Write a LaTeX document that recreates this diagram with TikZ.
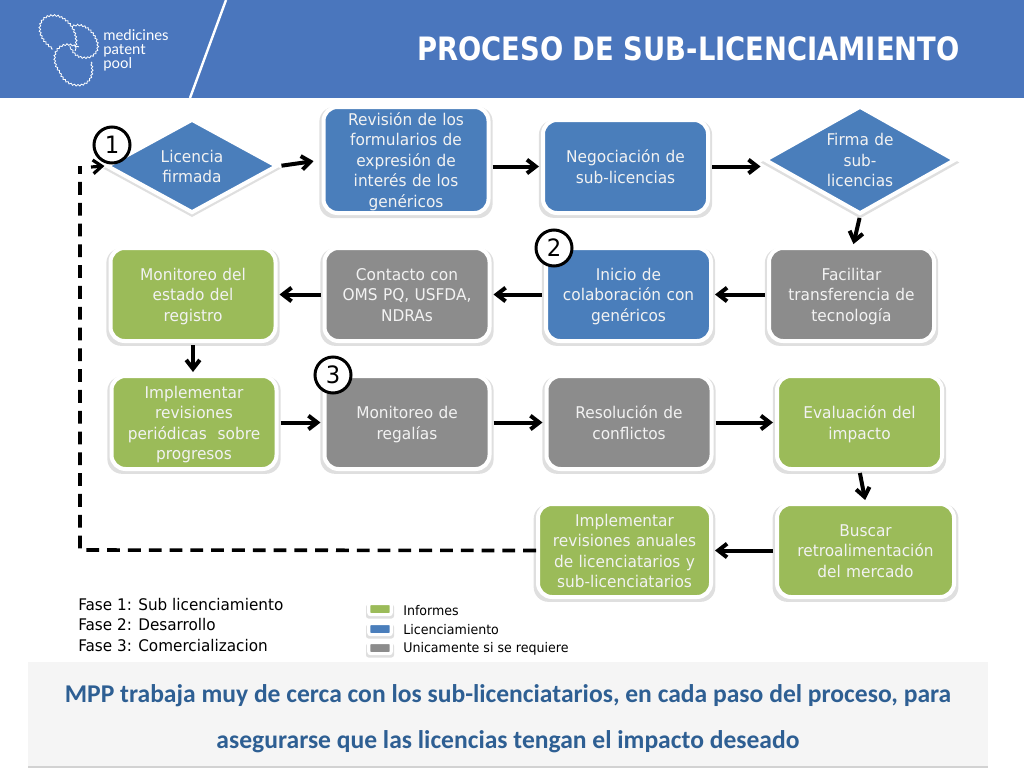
\documentclass[tikz,border=0pt]{standalone}
\usepackage{fontspec}
\setmainfont[FakeStretch=0.95]{DejaVu Sans}
\newfontfamily\titlefont[FakeStretch=0.85]{DejaVu Sans}
\newfontfamily\notefont{Carlito}
\newfontfamily\logofont{Lato}
\usetikzlibrary{arrows.meta,shapes.geometric,shadows,decorations.pathmorphing}
\definecolor{mppblue}{HTML}{4A7EBB}
\definecolor{headblue}{HTML}{4A76BD}
\definecolor{mppgreen}{HTML}{9BBB59}
\definecolor{mppgrey}{HTML}{8C8C8C}
\definecolor{notetext}{HTML}{2E5F93}
\begin{document}
\begin{tikzpicture}[x=0.25mm, y=-0.25mm, >={Straight Barb[length=2.2mm,width=3.4mm]},
    soft/.style={drop shadow={shadow xshift=0mm, shadow yshift=-0.6mm, shadow scale=1.05, opacity=0.25}},
    flowbox/.style={rectangle, rounded corners=3.5mm, draw=white, line width=1mm, soft, text=white!95!black,
      minimum width=41.25mm, minimum height=23.25mm, inner sep=0mm, text width=38mm, align=center,
      font=\fontsize{11.5}{14.6}\selectfont,
      execute at begin node={\rule{0pt}{4.3mm}}, execute at end node={\rule[-1.1mm]{0pt}{1.1mm}}},
    bluebox/.style={flowbox, fill=mppblue},
    greenbox/.style={flowbox, fill=mppgreen},
    greybox/.style={flowbox, fill=mppgrey},
    flowdiamond/.style={bluebox, diamond, rounded corners=0mm, inner sep=0mm, aspect=1.77, text width=20mm},
    stepnum/.style={circle, draw=black, fill=white, line width=0.75mm, minimum size=9mm, inner sep=0mm,
      font=\fontsize{17}{17}\selectfont},
    swatch/.style={rectangle, rounded corners=0.5mm, draw=white, line width=0.8mm,
      drop shadow={shadow xshift=0mm, shadow yshift=-0.5mm, shadow scale=1.25, opacity=0.25},
      minimum width=5.6mm, minimum height=2.8mm, inner sep=0mm},
    flow/.style={->, line width=1mm, shorten <=0.5mm, shorten >=0.5mm},
    back/.style={line width=0.9mm, dash pattern=on 3.2mm off 2mm},
    legendtext/.style={anchor=west, inner sep=0mm, font=\fontsize{9.45}{11}\selectfont},
    phasetext/.style={anchor=west, inner sep=0mm, font=\fontsize{11.4}{13}\selectfont}]
      \useasboundingbox (0,0) rectangle (1024,768);

      % Header
      \fill[headblue] (0,0) rectangle (1024,98);
      \draw[white, line width=0.6mm] (226,0) -- (190,98);
      \node[text=white, anchor=east, inner sep=0mm, font=\titlefont\fontsize{22.9}{26}\bfseries\selectfont] (title) at (960,49) {PROCESO DE SUB-LICENCIAMIENTO};

      % Logo
      \begin{scope}[white, line width=0.2mm, decoration={snake, amplitude=0.2mm, segment length=0.9mm}]
        \draw[decorate] (53,49) .. controls (34,36) and (38,14) .. (56,16) .. controls (68,17) and (82,34) .. (75,51);
        \draw[decorate] (73,26) .. controls (85,22) and (97,36) .. (97,47) .. controls (96,62) and (72,62) .. (70,46);
        \draw[decorate] (91,62) .. controls (98,90) and (66,90) .. (60,72) .. controls (48,58) and (56,36) .. (79,47);
      \end{scope}
      \node[text=white, anchor=west, inner sep=0mm, align=left, font=\logofont\fontsize{10.6}{10}\selectfont] (logotext) at (103,50) {medicines\\patent\\pool};

      % First row of nodes
      \node[flowdiamond, minimum width=42.75mm, minimum height=23.5mm] (licencia) at (192,166) {Licencia\\firmada};
      \node[bluebox, minimum height=26.5mm] (revision) at (406,160) {Revisión de los\\formularios de\\expresión de\\interés de los\\genéricos};
      \node[bluebox] (negociacion) at (625.5,166.5) {Negociación de\\sub-licencias};
      \node[flowdiamond, minimum width=47.5mm, minimum height=27mm] (firma) at (860,160) {Firma de\\sub-\\licencias};

      % Second row of nodes
      \node[greenbox] (estado) at (193,294.5) {Monitoreo del\\estado del\\registro};
      \node[greybox] (contacto) at (407,294.5) {Contacto con\\OMS PQ, USFDA,\\NDRAs};
      \node[bluebox] (inicio) at (628.5,294.5) {Inicio de\\colaboración con\\genéricos};
      \node[greybox] (facilitar) at (851.5,294.5) {Facilitar\\transferencia de\\tecnología};

      % Third row of nodes
      \node[greenbox] (periodicas) at (194,422.5) {Implementar\\revisiones\\periódicas\ \ sobre\\progresos};
      \node[greybox] (regalias) at (407,422.5) {Monitoreo de\\regalías};
      \node[greybox] (conflictos) at (629,422.5) {Resolución de\\conflictos};
      \node[greenbox] (impacto) at (859.5,422.5) {Evaluación del\\impacto};

      % Fourth row of nodes
      \node[greenbox, minimum width=43.25mm] (anuales) at (624.5,550.5) {Implementar\\revisiones anuales\\de licenciatarios y\\sub-licenciatarios};
      \node[greenbox, minimum width=44.25mm] (buscar) at (865.5,550.5) {Buscar\\retroalimentación\\del mercado};

      % Step numbers
      \node[stepnum] (uno) at (112,145) {1};
      \node[stepnum] (dos) at (554,248) {2};
      \node[stepnum] (tres) at (333,375) {3};

      % Arrows
      \draw[flow, shorten >=2mm] (licencia.east) -- (revision.west);
      \draw[flow] (revision.east |- negociacion.west) -- (negociacion.west);
      \draw[flow] (negociacion.east) -- (firma.west |- negociacion.east);
      \draw[flow] (firma.south) -- ([xshift=-1.75mm]firma.south |- facilitar.north);
      \draw[flow] (facilitar.west) -- (inicio.east);
      \draw[flow] (inicio.west) -- (contacto.east);
      \draw[flow] (contacto.west) -- (estado.east);
      \draw[flow] (estado.south) -- (estado.south |- periodicas.north);
      \draw[flow] (periodicas.east) -- (regalias.west);
      \draw[flow] (regalias.east) -- (conflictos.west);
      \draw[flow] (conflictos.east) -- (impacto.west);
      \draw[flow] (impacto.south) -- (buscar.north);
      \draw[flow] (buscar.west) -- (anuales.east);

      % Dashed way back
      \coordinate (cornerlow) at (80,550);
      \coordinate (cornerup) at (80,166);
      \coordinate (tipstart) at (91,167);
      \draw[back] (anuales.west) -- (cornerlow) -- (cornerup);
      \draw[flow, shorten <=0mm, shorten >=0mm, line width=0.8mm] (tipstart) -- (licencia.west);

      % Phases
      \node[phasetext] (fase1) at (78,604.5) {Fase 1: Sub licenciamiento};
      \node[phasetext] (fase2) at (78,625) {Fase 2: Desarrollo};
      \node[phasetext] (fase3) at (78,645.5) {Fase 3: Comercializacion};

      % Legend
      \node[swatch, fill=mppgreen] (s1) at (380,609) {};
      \node[swatch, fill=mppblue] (s2) at (380,629) {};
      \node[swatch, fill=mppgrey] (s3) at (380,648) {};
      \node[legendtext] (t1) at (403,611) {Informes};
      \node[legendtext] (t2) at (403,629.5) {Licenciamiento};
      \node[legendtext] (t3) at (403,648.5) {Unicamente si se requiere};

      % Note at the bottom
      \fill[gray!70, opacity=0.5] (28,666) rectangle (988,768);
      \fill[black!4] (28,662) rectangle (988,766);
      \node[text=notetext, inner sep=0mm, font=\notefont\fontsize{18.2}{18}\bfseries\selectfont] (note1) at (508,696) {MPP trabaja muy de cerca con los sub-licenciatarios, en cada paso del proceso, para};
      \node[text=notetext, inner sep=0mm, font=\notefont\fontsize{18.2}{18}\bfseries\selectfont] (note2) at (508,742) {asegurarse que las licencias tengan el impacto deseado};
    \end{tikzpicture}
\end{document}
